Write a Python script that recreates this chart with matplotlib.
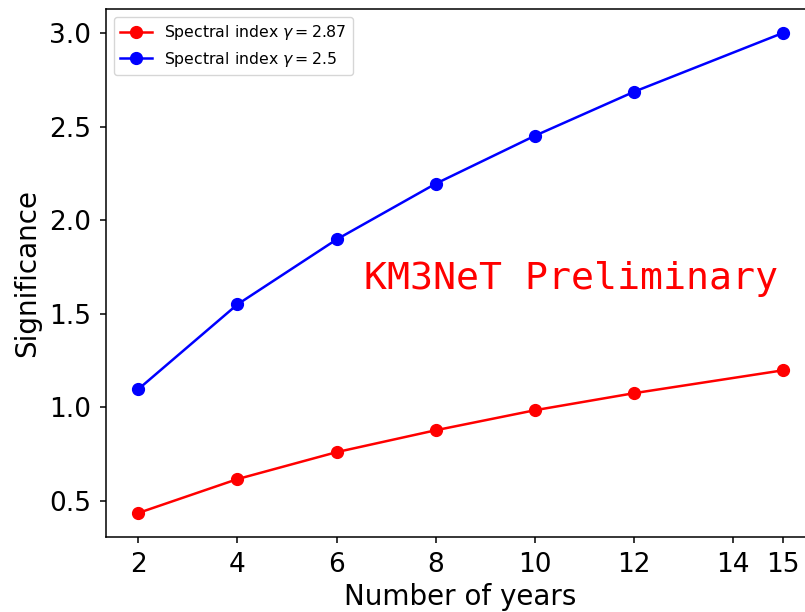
import matplotlib
matplotlib.use('Agg')
import matplotlib.pyplot as plt

years = [2, 4, 6, 8, 10, 12, 15]
sig_287 = [0.436, 0.617, 0.761, 0.878, 0.985, 1.076, 1.198]
sig_25 = [1.097, 1.55, 1.897, 2.195, 2.451, 2.686, 3.0]
xticks = [2, 4, 6, 8, 10, 12, 14, 15]

fig = plt.figure(figsize=(8.05, 6.12), dpi=100)
# the original picture is cut off on the right, so the axes run past the edge
ax = fig.add_axes([106 / 805, 75 / 612, 709 / 805, 528 / 612])

ax.plot(years, sig_287, '-o', color='red', markersize=8.5, linewidth=1.8,
        label=r'Spectral index $\gamma = 2.87$')
ax.plot(years, sig_25, '-o', color='blue', markersize=8.5, linewidth=1.8,
        label=r'Spectral index $\gamma = 2.5$')

ax.set_xticks(xticks)
ax.tick_params(labelsize=19, length=4.5, width=1.1, pad=6)
for s in ax.spines.values():
    s.set_linewidth(1.1)
ax.set_xlabel('Number of years', fontsize=20, labelpad=4)
ax.set_ylabel('Significance', fontsize=20, labelpad=6)
ax.legend(loc='upper left', fontsize=11.3)

ax.text(6.56, 1.635, 'KM3NeT Preliminary', color='red', fontsize=27.5,
        family='monospace', ha='left', va='baseline')

fig.savefig('out.png', dpi=100)
